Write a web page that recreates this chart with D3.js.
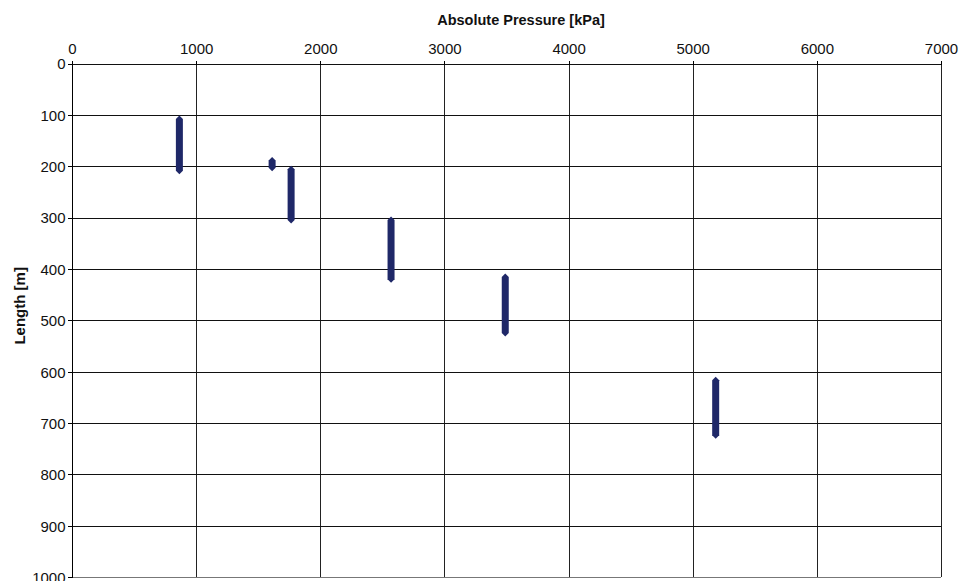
<!DOCTYPE html>
<html>
<head>
<meta charset="utf-8">
<script src="https://cdn.jsdelivr.net/npm/d3@7"></script>
<style>
  body { margin: 0; background: #fff; }
  svg { display: block; font-family: "Liberation Sans", Arial, sans-serif; }
</style>
</head>
<body>
<svg id="chart"></svg>
<script>
// measurement runs: pressure and the length span covered by the markers
const pressure = [865, 1612, 1765, 2570, 3490, 5185];
const lengthTop = [108, 189, 206, 305, 416, 617];
const lengthBottom = [209, 203, 305, 420, 525, 724];

const xTicks = [0, 1000, 2000, 3000, 4000, 5000, 6000, 7000];
const yTicks = [0, 100, 200, 300, 400, 500, 600, 700, 800, 900, 1000];

const width = 962, height = 581;
const margin = { top: 63.5, right: 21, bottom: 4, left: 72 };

const svg = d3.select("#chart").attr("width", width).attr("height", height);

const x = d3.scaleLinear().domain([0, 7000]).range([margin.left, width - margin.right]);
const y = d3.scaleLinear().domain([0, 1000]).range([margin.top, height - margin.bottom]);

// grid
const grid = svg.append("g").attr("shape-rendering", "crispEdges");
grid.selectAll("line.v")
  .data(xTicks)
  .enter().append("line")
  .attr("class", "v")
  .attr("x1", d => Math.round(x(d)) + 0.5).attr("x2", d => Math.round(x(d)) + 0.5)
  .attr("y1", y(0)).attr("y2", y(1000))
  .attr("stroke", d => d === 0 ? "#000" : "#222")
  .attr("stroke-width", 1);
grid.selectAll("line.h")
  .data(yTicks)
  .enter().append("line")
  .attr("class", "h")
  .attr("y1", d => Math.round(y(d)) + 0.5).attr("y2", d => Math.round(y(d)) + 0.5)
  .attr("x1", x(0)).attr("x2", x(7000))
  .attr("stroke", d => d === 1000 ? "#777" : "#111")
  .attr("stroke-width", 1);

// axes (top and left, ticks pointing outward)
const xAxis = svg.append("g")
  .attr("transform", `translate(0,${Math.round(y(0)) + 0.5})`)
  .call(d3.axisTop(x).tickValues(xTicks).tickSize(4).tickPadding(7).tickFormat(d3.format("d")));
const yAxis = svg.append("g")
  .attr("transform", `translate(${Math.round(x(0)) + 0.5},0)`)
  .call(d3.axisLeft(y).tickValues(yTicks).tickSize(5).tickPadding(2).tickFormat(d3.format("d")));

[xAxis, yAxis].forEach(a => {
  a.select(".domain").remove();
  a.selectAll("line").attr("stroke", "#000").attr("shape-rendering", "crispEdges");
  a.selectAll("text")
    .attr("fill", "#111")
    .style("font-size", "15px")
    .style("font-family", "'Liberation Sans', Arial, sans-serif");
});
yAxis.selectAll("text").attr("dy", "0.36em");

// runs drawn as stacked diamond markers (thick bar with pointed ends)
const half = 3.5, tip = 3.5;
svg.append("g")
  .selectAll("path.run")
  .data(pressure.map((p, i) => ({ p, top: lengthTop[i], bottom: lengthBottom[i] })))
  .enter().append("path")
  .attr("class", "run")
  .attr("fill", "#1f2868")
  .attr("d", d => {
    const cx = x(d.p), y0 = y(d.top), y1 = y(d.bottom);
    return `M${cx},${y0 - tip} L${cx + half},${y0} L${cx + half},${y1} L${cx},${y1 + tip}` +
      ` L${cx - half},${y1} L${cx - half},${y0} Z`;
  });

// axis titles
svg.append("text")
  .attr("x", 521)
  .attr("y", 25)
  .attr("text-anchor", "middle")
  .style("font-size", "14.5px")
  .style("font-weight", "bold")
  .attr("fill", "#111")
  .text("Absolute Pressure [kPa]");

svg.append("text")
  .attr("transform", `translate(25,${y(472)}) rotate(-90)`)
  .attr("text-anchor", "middle")
  .style("font-size", "15px")
  .style("font-weight", "bold")
  .attr("fill", "#111")
  .text("Length [m]");
</script>
</body>
</html>
